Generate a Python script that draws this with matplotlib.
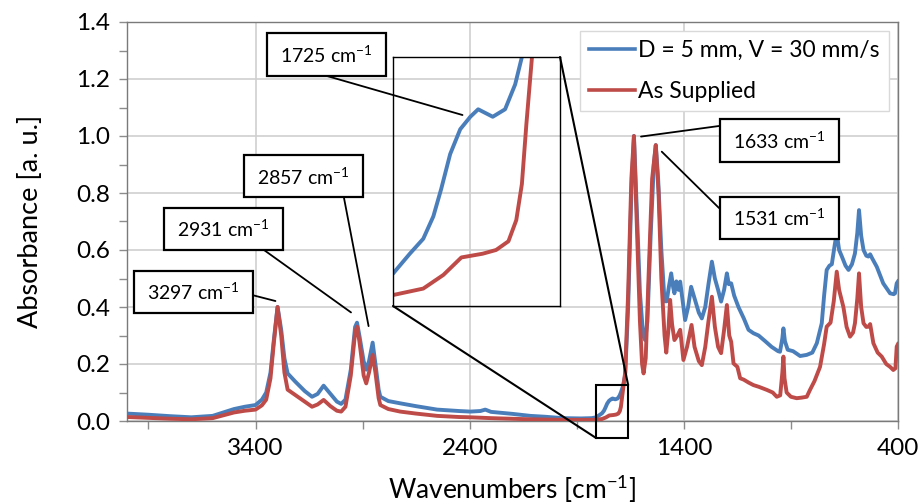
import matplotlib
matplotlib.use("Agg")
import matplotlib.pyplot as plt
from matplotlib.patches import Rectangle, ConnectionPatch
from matplotlib.ticker import MultipleLocator, FixedLocator

plt.rcParams['font.family'] = ['Lato', 'DejaVu Sans']
plt.rcParams['mathtext.fontset'] = 'custom'
plt.rcParams['mathtext.rm'] = 'Lato'

# ---- data ----
wn_blue = [4000, 3900, 3800, 3700, 3600, 3500, 3450, 3400, 3370, 3350, 3330, 3315,
           3297, 3280, 3265, 3250, 3214, 3170, 3136, 3110, 3082, 3050, 3020, 3000,
           2980, 2955, 2935, 2926, 2915, 2895, 2883, 2870, 2853, 2840, 2825, 2817,
           2780, 2724, 2650, 2552, 2450, 2397, 2350, 2327, 2300, 2200, 2117, 2050,
           1963, 1880, 1830, 1809, 1794, 1782, 1773, 1766, 1758, 1749, 1740, 1733,
           1720, 1709, 1700, 1694, 1685, 1674, 1660, 1645, 1633, 1620, 1605, 1590,
           1581, 1570, 1555, 1540, 1531, 1520, 1505, 1490, 1480, 1470, 1459, 1450,
           1444, 1435, 1425, 1417, 1405, 1394, 1380, 1366, 1350, 1330, 1316, 1300,
           1285, 1269, 1255, 1240, 1226, 1212, 1199, 1190, 1179, 1165, 1145, 1120,
           1098, 1075, 1051, 1020, 990, 960, 951, 940, 935, 928, 915, 890, 857, 826,
           800, 779, 756, 745, 733, 720, 709, 695, 686, 675, 662, 645, 631, 615,
           601, 590, 582, 572, 561, 548, 538, 530, 520, 499, 469, 437, 420, 414,
           406, 400]
abs_blue = [0.026, 0.022, 0.017, 0.013, 0.018, 0.042, 0.050, 0.056, 0.075, 0.100, 0.170, 0.280,
            0.400, 0.320, 0.220, 0.167, 0.138, 0.105, 0.085, 0.095, 0.124, 0.095, 0.068, 0.060,
            0.075, 0.180, 0.330, 0.345, 0.300, 0.210, 0.180, 0.210, 0.275, 0.200, 0.110, 0.085,
            0.070, 0.062, 0.052, 0.040, 0.035, 0.033, 0.035, 0.040, 0.032, 0.025, 0.018, 0.015,
            0.010, 0.009, 0.010, 0.013, 0.021, 0.027, 0.036, 0.047, 0.061, 0.071, 0.076, 0.079,
            0.076, 0.079, 0.089, 0.100, 0.120, 0.160, 0.400, 0.800, 1.000, 0.750, 0.450, 0.300,
            0.284, 0.350, 0.650, 0.900, 0.968, 0.850, 0.600, 0.420, 0.420, 0.470, 0.518, 0.470,
            0.448, 0.490, 0.460, 0.489, 0.420, 0.354, 0.400, 0.471, 0.430, 0.380, 0.360, 0.400,
            0.480, 0.559, 0.500, 0.460, 0.419, 0.460, 0.518, 0.480, 0.483, 0.440, 0.400, 0.360,
            0.320, 0.308, 0.300, 0.280, 0.260, 0.245, 0.243, 0.290, 0.325, 0.280, 0.250, 0.245, 0.228, 0.232,
            0.240, 0.273, 0.343, 0.440, 0.530, 0.545, 0.550, 0.620, 0.660, 0.600, 0.577, 0.545, 0.530, 0.550,
            0.588, 0.660, 0.740, 0.650, 0.600, 0.580, 0.577, 0.585, 0.570, 0.541, 0.483, 0.448, 0.445, 0.448,
            0.483, 0.490]

wn_red = [4000, 3900, 3800, 3700, 3600, 3500, 3450, 3400, 3370, 3350, 3330, 3315,
          3297, 3280, 3265, 3250, 3214, 3170, 3136, 3110, 3082, 3050, 3020, 3000,
          2980, 2955, 2935, 2926, 2915, 2895, 2883, 2870, 2853, 2840, 2825, 2817,
          2780, 2724, 2650, 2552, 2450, 2397, 2300, 2200, 2117, 1963, 1880, 1830,
          1809, 1782, 1764, 1748, 1729, 1717, 1706, 1699, 1694, 1690, 1685, 1674,
          1660, 1645, 1633, 1620, 1605, 1595, 1588, 1578, 1565, 1548, 1531, 1518,
          1505, 1490, 1482, 1472, 1464, 1455, 1444, 1430, 1417, 1402, 1385, 1364,
          1350, 1330, 1316, 1300, 1285, 1269, 1255, 1240, 1226, 1212, 1199, 1188,
          1179, 1168, 1150, 1137, 1120, 1098, 1075, 1050, 1012, 985, 966, 950,
          940, 935, 930, 920, 900, 873, 850, 826, 811, 790, 764, 745, 733, 715,
          700, 686, 675, 655, 640, 624, 610, 601, 590, 582, 572, 561, 548, 538,
          530, 515, 495, 476, 455, 437, 422, 412, 406, 400]
abs_red = [0.014, 0.011, 0.008, 0.006, 0.010, 0.030, 0.036, 0.040, 0.055, 0.075, 0.150, 0.270,
           0.400, 0.300, 0.170, 0.110, 0.091, 0.068, 0.050, 0.058, 0.074, 0.052, 0.036, 0.033,
           0.050, 0.160, 0.310, 0.331, 0.280, 0.160, 0.132, 0.170, 0.232, 0.170, 0.080, 0.056,
           0.042, 0.033, 0.026, 0.018, 0.014, 0.013, 0.010, 0.008, 0.006, 0.004, 0.004, 0.004,
           0.0044, 0.007, 0.0125, 0.0195, 0.021, 0.0225, 0.026, 0.0345, 0.049, 0.073, 0.100, 0.170,
           0.450, 0.850, 1.000, 0.700, 0.350, 0.200, 0.167, 0.220, 0.500, 0.850, 0.968, 0.800,
           0.500, 0.300, 0.240, 0.320, 0.425, 0.340, 0.284, 0.300, 0.320, 0.214, 0.260, 0.337,
           0.260, 0.210, 0.196, 0.260, 0.350, 0.436, 0.330, 0.260, 0.238, 0.320, 0.407, 0.300,
           0.278, 0.202, 0.190, 0.150, 0.145, 0.135, 0.126, 0.120, 0.109, 0.100, 0.085, 0.090,
           0.170, 0.226, 0.150, 0.100, 0.085, 0.080, 0.082, 0.085, 0.109, 0.140, 0.190, 0.270, 0.331, 0.345,
           0.420, 0.524, 0.460, 0.400, 0.330, 0.296, 0.310, 0.343, 0.430, 0.518, 0.400, 0.343, 0.330, 0.331,
           0.340, 0.273, 0.240, 0.226, 0.200, 0.190, 0.179, 0.185, 0.261, 0.270]

label_blue = 'D = 5 mm, V = 30 mm/s'
label_red = 'As Supplied'

# peak labels: text, point on curve (wavenumber, absorbance)
peaks = ['3297', '2931', '2857', '1633', '1531']
peak_pts = [(3307, 0.421), (2954, 0.381), (2872, 0.333), (1600, 0.998), (1503, 0.945)]

blue = '#4A7EBB'
red = '#BE4B48'

W, H = 919, 504
fig = plt.figure(figsize=(W / 100, H / 100), dpi=100)

def fx(x):
    return x / W

def fy(y):
    return 1 - y / H

ax = fig.add_axes([fx(127), fy(421), fx(898) - fx(127), fy(22) - fy(421)])
ax.plot(wn_blue, abs_blue, color=blue, lw=2.8, label=label_blue, zorder=3)
ax.plot(wn_red, abs_red, color=red, lw=2.8, label=label_red, zorder=4)

ax.set_xlim(4000, 400)
ax.set_ylim(0, 1.4)
ax.xaxis.set_major_locator(FixedLocator([3400, 2400, 1400, 400]))
ax.xaxis.set_minor_locator(FixedLocator([3900, 2900, 1900, 900]))
ax.yaxis.set_major_locator(MultipleLocator(0.2))
ax.yaxis.set_minor_locator(MultipleLocator(0.1))
ax.yaxis.set_major_formatter(matplotlib.ticker.FormatStrFormatter('%.1f'))
ax.tick_params(which='both', direction='out', length=6, width=1, color='#8c8c8c',
               labelsize=17.5, colors='#8c8c8c', labelcolor='black', pad=6)
ax.grid(True, which='major', color='#cfcfcf', lw=1.2, zorder=0)
ax.set_axisbelow(True)
for s in ax.spines.values():
    s.set_color('#7a7a7a')
    s.set_linewidth(1)

ax.set_xlabel('Wavenumbers [cm$^{\\mathregular{-1}}$]', fontsize=19, labelpad=10)
ax.set_ylabel('Absorbance [a. u.]', fontsize=19.5, labelpad=24)

leg = ax.legend(loc='upper right', bbox_to_anchor=(fx(889), fy(31)),
                bbox_transform=fig.transFigure, fontsize=16.5, frameon=True,
                fancybox=False, edgecolor='#d9d9d9', framealpha=1,
                handlelength=2.0, handletextpad=0.15, labelspacing=0.85,
                borderpad=0.4, borderaxespad=0)
for ln in leg.get_lines():
    ln.set_linewidth(2.6)

# zoom box on the main plot around the 1725 shoulder
x0, x1 = 1809, 1660
ax.add_patch(Rectangle((x1, -0.06), x0 - x1, 0.186, fill=False, ec='black',
                       lw=1.5, clip_on=False, zorder=6))

# inset showing the zoomed region
axin = fig.add_axes([fx(393), fy(306), fx(560) - fx(393), fy(57) - fy(306)])
axin.patch.set_alpha(0)
axin.plot(wn_blue, abs_blue, color=blue, lw=2.8)
axin.plot(wn_red, abs_red, color=red, lw=2.8)
axin.set_xlim(x0, x1)
axin.set_ylim(0, 0.1)
axin.set_xticks([])
axin.set_yticks([])
for s in axin.spines.values():
    s.set_color('black')
    s.set_linewidth(1)

# connector lines between the zoom box and the inset
for a, b in [((x1, 0.126), (1, 1)), ((x0, -0.06), (0, 0))]:
    con = ConnectionPatch(xyA=a, coordsA=ax.transData, xyB=b, coordsB=axin.transAxes,
                          color='black', lw=1.5)
    fig.add_artist(con)

# boxed labels: centre (px), start of leader line (px)
def label_box(text, cx, cy, sx, sy, xy, coords):
    fig.add_artist(Rectangle((fx(cx - 59.5), fy(cy + 21)), 119 / W, 42 / H,
                             transform=fig.transFigure, fc='white', ec='black', lw=1.6,
                             zorder=8))
    fig.text(fx(cx), fy(cy), text + ' cm$^{\\mathregular{-1}}$', ha='center', va='center',
             fontsize=14, zorder=9)
    con = ConnectionPatch(xyA=(fx(sx), fy(sy)), coordsA=fig.transFigure, xyB=xy,
                          coordsB=coords, color='black', lw=1.3, zorder=7)
    fig.add_artist(con)

label_box(peaks[0], 193.7, 291.5, 252, 295, peak_pts[0], ax.transData)
label_box(peaks[1], 223.7, 229, 264, 250, peak_pts[1], ax.transData)
label_box(peaks[2], 303, 176.5, 344, 198, peak_pts[2], ax.transData)
label_box(peaks[3], 779.7, 140.5, 719, 126, peak_pts[3], ax.transData)
label_box(peaks[4], 779.7, 218.3, 719, 208, peak_pts[4], ax.transData)
label_box('1725', 326, 54.5, 327, 76, (1747, 0.0767), axin.transData)

fig.savefig('out.png', dpi=100)
